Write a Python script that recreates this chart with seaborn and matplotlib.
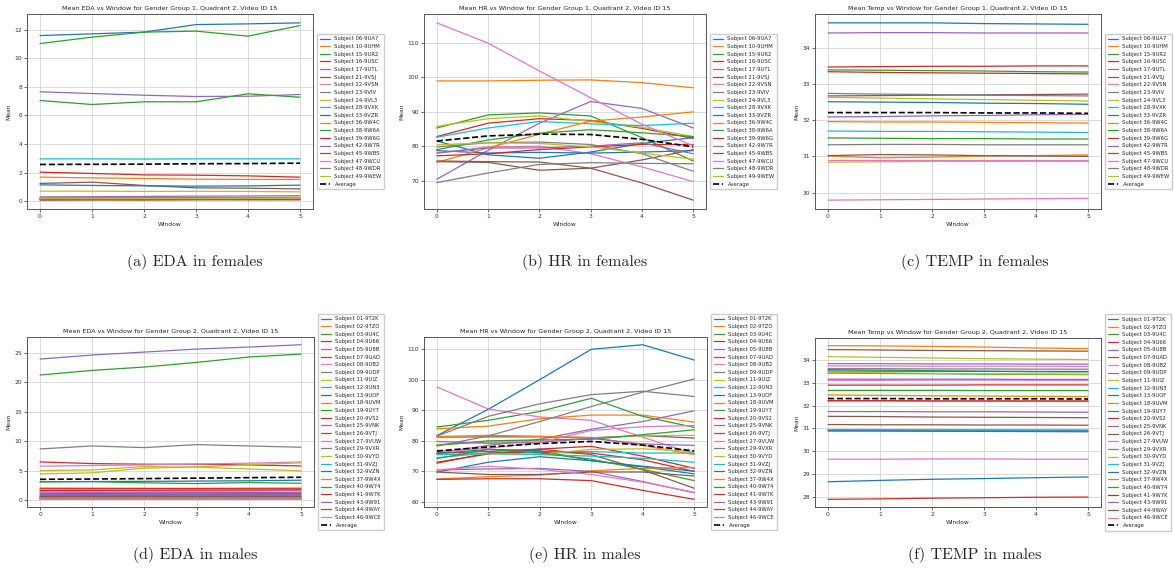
import matplotlib
matplotlib.use("Agg")
import matplotlib.pyplot as plt
from matplotlib.ticker import MultipleLocator
import pandas as pd
import seaborn as sns

sns.set_style("ticks")
plt.rcParams["font.family"] = ["DejaVu Sans"]

windows = [0, 1, 2, 3, 4, 5]

female_ids = ["06-9UA7", "10-9UHM", "15-9UR2", "16-9USC", "17-9UTL", "21-9VSJ",
              "22-9VSN", "23-9VIV", "24-9VL3", "28-9VXK", "33-9VZR", "36-9W4C",
              "38-9W6A", "39-9W6G", "42-9W7R", "45-9WBS", "47-9WCU", "48-9WDR",
              "49-9WEW"]
male_ids = ["01-9T2K", "02-9TZO", "03-9U4C", "04-9U66", "05-9U8B", "07-9UAD",
            "08-9UB2", "09-9UDP", "11-9UIZ", "12-9UN3", "13-9UOF", "18-9UVM",
            "19-9UY7", "20-9VS2", "25-9VNK", "26-9VTJ", "27-9VUW", "29-9VXR",
            "30-9VYD", "31-9VZJ", "32-9VZN", "37-9W4X", "40-9W74", "41-9W7K",
            "43-9W91", "44-9WAY", "46-9WCE"]

# ---- Gender group 1 (females): EDA ----
eda_f = [
    [11.60, 11.72, 11.84, 12.37, 12.42, 12.49],
    [1.68, 1.63, 1.59, 1.54, 1.52, 1.52],
    [11.04, 11.49, 11.84, 11.91, 11.56, 12.30],
    [2.03, 1.94, 1.84, 1.82, 1.77, 1.68],
    [7.66, 7.54, 7.42, 7.33, 7.35, 7.47],
    [1.24, 1.33, 1.10, 0.93, 0.91, 0.86],
    [0.22, 0.21, 0.20, 0.20, 0.21, 0.23],
    [0.15, 0.14, 0.14, 0.15, 0.16, 0.16],
    [0.70, 0.70, 0.68, 0.69, 0.68, 0.65],
    [2.96, 2.96, 2.95, 2.96, 2.96, 2.96],
    [1.14, 1.10, 1.07, 1.05, 1.07, 1.12],
    [0.10, 0.11, 0.10, 0.12, 0.13, 0.12],
    [7.05, 6.77, 6.96, 6.96, 7.52, 7.28],
    [0.12, 0.13, 0.14, 0.13, 0.12, 0.11],
    [0.30, 0.31, 0.33, 0.35, 0.36, 0.38],
    [0.07, 0.08, 0.08, 0.09, 0.09, 0.10],
    [0.26, 0.25, 0.24, 0.25, 0.26, 0.27],
    [0.19, 0.20, 0.21, 0.22, 0.21, 0.20],
    [0.17, 0.17, 0.18, 0.18, 0.19, 0.19],
]
eda_f_avg = [2.57, 2.58, 2.59, 2.62, 2.63, 2.66]

# ---- Gender group 1 (females): HR ----
hr_f = [
    [81.5, 77.5, 76.5, 78.3, 80.8, 82.5],
    [99.0, 99.0, 99.2, 99.3, 98.5, 97.0],
    [85.3, 89.1, 89.7, 88.8, 82.5, 75.7],
    [82.8, 86.7, 88.0, 87.5, 85.2, 82.3],
    [70.4, 78.8, 86.7, 93.0, 91.0, 85.3],
    [75.5, 75.3, 73.0, 73.6, 76.0, 79.0],
    [78.0, 79.8, 80.0, 77.8, 74.0, 69.7],
    [79.8, 81.0, 81.2, 80.5, 77.8, 72.7],
    [85.8, 88.0, 88.8, 87.2, 85.5, 82.8],
    [82.6, 85.3, 87.2, 86.5, 86.0, 86.7],
    [78.7, 78.0, 78.2, 78.0, 78.3, 78.7],
    [75.3, 79.5, 83.5, 87.3, 88.5, 90.0],
    [79.0, 81.8, 83.8, 84.8, 83.9, 82.8],
    [77.2, 77.8, 79.0, 79.8, 80.5, 80.5],
    [78.0, 79.5, 79.5, 80.0, 81.0, 77.8],
    [75.7, 75.5, 75.4, 73.6, 69.3, 64.3],
    [115.9, 110.0, 101.9, 94.1, 86.4, 80.1],
    [69.4, 72.2, 74.7, 75.2, 75.0, 74.9],
    [80.4, 81.0, 80.8, 79.8, 78.0, 76.2],
]
hr_f_avg = [81.5, 83.0, 83.5, 83.4, 82.0, 79.8]

# ---- Gender group 1 (females): TEMP ----
temp_f = [
    [34.69, 34.69, 34.69, 34.67, 34.66, 34.65],
    [31.96, 31.95, 31.95, 31.94, 31.93, 31.92],
    [33.39, 33.38, 33.37, 33.36, 33.34, 33.33],
    [33.47, 33.48, 33.49, 33.49, 33.50, 33.50],
    [34.41, 34.42, 34.42, 34.41, 34.41, 34.41],
    [32.67, 32.68, 32.69, 32.70, 32.71, 32.72],
    [30.89, 30.89, 30.89, 30.89, 30.89, 30.89],
    [32.74, 32.72, 32.71, 32.69, 32.68, 32.67],
    [32.63, 32.61, 32.59, 32.57, 32.55, 32.53],
    [31.70, 31.69, 31.69, 31.68, 31.67, 31.66],
    [32.51, 32.50, 32.49, 32.47, 32.46, 32.44],
    [31.01, 30.96, 30.98, 31.01, 31.02, 31.04],
    [31.51, 31.50, 31.49, 31.49, 31.48, 31.48],
    [33.34, 33.32, 33.31, 33.30, 33.29, 33.28],
    [32.09, 32.10, 32.12, 32.13, 32.15, 32.16],
    [31.02, 31.05, 31.04, 31.02, 31.01, 31.00],
    [29.79, 29.80, 29.81, 29.82, 29.83, 29.84],
    [31.32, 31.33, 31.33, 31.32, 31.32, 31.32],
    [30.84, 30.85, 30.86, 30.86, 30.86, 30.86],
]
temp_f_avg = [32.21, 32.21, 32.21, 32.20, 32.20, 32.19]

# ---- Gender group 2 (males): EDA ----
eda_m = [
    [0.20, 0.21, 0.20, 0.22, 0.22, 0.23],
    [1.85, 1.84, 1.85, 1.83, 1.82, 1.82],
    [21.26, 22.05, 22.62, 23.41, 24.32, 24.83],
    [6.46, 6.18, 6.07, 6.07, 5.95, 5.78],
    [23.98, 24.66, 25.17, 25.68, 26.02, 26.42],
    [1.05, 1.07, 1.05, 1.04, 1.06, 1.06],
    [5.73, 5.85, 5.95, 6.10, 6.25, 6.45],
    [8.67, 9.18, 8.90, 9.41, 9.18, 8.96],
    [4.99, 5.10, 5.67, 5.56, 5.27, 4.93],
    [0.40, 0.42, 0.41, 0.43, 0.42, 0.44],
    [3.10, 3.12, 3.15, 3.20, 3.25, 3.35],
    [0.25, 0.26, 0.27, 0.26, 0.27, 0.28],
    [0.50, 0.51, 0.53, 0.52, 0.54, 0.53],
    [1.98, 1.97, 1.96, 1.95, 1.97, 1.98],
    [1.20, 1.22, 1.21, 1.23, 1.23, 1.25],
    [0.10, 0.11, 0.10, 0.11, 0.12, 0.12],
    [1.40, 1.42, 1.45, 1.44, 1.47, 1.50],
    [0.75, 0.77, 0.76, 0.78, 0.77, 0.79],
    [4.42, 4.60, 5.40, 5.60, 6.00, 6.30],
    [0.15, 0.16, 0.15, 0.16, 0.17, 0.17],
    [0.35, 0.36, 0.35, 0.37, 0.37, 0.38],
    [0.30, 0.31, 0.32, 0.31, 0.33, 0.33],
    [3.06, 3.10, 2.90, 2.78, 2.95, 2.83],
    [1.60, 1.62, 1.64, 1.65, 1.66, 1.69],
    [0.90, 0.91, 0.93, 0.92, 0.94, 0.94],
    [0.60, 0.62, 0.61, 0.62, 0.63, 0.63],
    [0.12, 0.13, 0.12, 0.13, 0.14, 0.14],
]
eda_m_avg = [3.50, 3.55, 3.62, 3.70, 3.78, 3.85]

# ---- Gender group 2 (males): HR ----
hr_m = [
    [81.7, 90.3, 100.0, 109.9, 111.4, 106.4],
    [83.9, 84.8, 87.2, 88.4, 88.4, 86.1],
    [84.5, 86.7, 89.6, 93.9, 88.0, 84.4],
    [73.0, 75.7, 77.3, 78.2, 75.0, 71.0],
    [76.0, 78.5, 80.5, 83.8, 86.3, 89.8],
    [81.2, 81.3, 81.3, 81.0, 81.7, 80.9],
    [97.6, 90.4, 87.8, 86.7, 81.2, 75.7],
    [81.5, 88.0, 92.1, 95.1, 96.2, 94.5],
    [78.8, 79.5, 80.0, 80.8, 81.7, 81.8],
    [74.5, 76.0, 76.5, 76.5, 76.0, 76.0],
    [75.8, 77.2, 76.8, 73.5, 71.5, 69.2],
    [81.4, 81.8, 81.5, 81.1, 78.5, 75.5],
    [78.5, 80.0, 80.3, 80.5, 82.0, 83.6],
    [72.7, 76.0, 76.3, 76.0, 73.8, 70.0],
    [79.8, 79.2, 79.5, 80.8, 79.0, 78.5],
    [76.0, 76.5, 77.3, 75.5, 70.5, 64.5],
    [76.5, 77.5, 79.5, 83.4, 84.6, 85.0],
    [78.3, 81.6, 86.3, 91.2, 95.9, 100.2],
    [75.5, 75.8, 75.6, 77.2, 77.4, 76.5],
    [75.5, 75.8, 75.5, 75.0, 74.3, 73.0],
    [69.8, 73.0, 74.8, 73.5, 71.7, 70.1],
    [67.5, 68.3, 68.8, 70.2, 71.0, 71.3],
    [74.2, 77.2, 76.0, 74.0, 70.7, 67.0],
    [67.4, 67.6, 67.6, 67.0, 63.8, 60.9],
    [70.5, 70.8, 71.0, 70.0, 66.7, 63.0],
    [69.8, 69.0, 69.0, 69.8, 69.8, 68.5],
    [70.5, 71.7, 70.7, 69.0, 66.5, 63.2],
]
hr_m_avg = [76.7, 78.0, 79.1, 79.8, 78.6, 76.7]

# ---- Gender group 2 (males): TEMP ----
temp_m = [
    [28.66, 28.72, 28.77, 28.80, 28.84, 28.87],
    [34.63, 34.62, 34.60, 34.57, 34.53, 34.50],
    [33.58, 33.56, 33.53, 33.51, 33.49, 33.48],
    [27.89, 27.91, 27.94, 27.96, 27.98, 27.99],
    [33.84, 33.84, 33.83, 33.83, 33.82, 33.82],
    [34.46, 34.44, 34.42, 34.41, 34.40, 34.39],
    [33.74, 33.74, 33.73, 33.73, 33.73, 33.72],
    [33.62, 33.62, 33.61, 33.61, 33.60, 33.60],
    [34.15, 34.12, 34.09, 34.06, 34.04, 34.02],
    [30.95, 30.95, 30.94, 30.94, 30.93, 30.93],
    [33.52, 33.51, 33.51, 33.50, 33.50, 33.50],
    [32.47, 32.45, 32.43, 32.42, 32.41, 32.40],
    [33.43, 33.41, 33.40, 33.38, 33.37, 33.36],
    [32.90, 32.90, 32.90, 32.91, 32.91, 32.91],
    [31.74, 31.74, 31.73, 31.73, 31.72, 31.71],
    [31.53, 31.52, 31.50, 31.49, 31.48, 31.47],
    [33.11, 33.11, 33.12, 33.12, 33.11, 33.11],
    [30.90, 30.89, 30.88, 30.87, 30.86, 30.85],
    [33.46, 33.44, 33.42, 33.40, 33.39, 33.38],
    [30.93, 30.93, 30.93, 30.92, 30.92, 30.92],
    [30.89, 30.89, 30.88, 30.88, 30.88, 30.88],
    [32.20, 32.20, 32.19, 32.19, 32.18, 32.18],
    [32.67, 32.67, 32.67, 32.66, 32.66, 32.66],
    [32.22, 32.22, 32.21, 32.21, 32.21, 32.21],
    [33.16, 33.16, 33.16, 33.16, 33.15, 33.15],
    [31.17, 31.16, 31.16, 31.15, 31.15, 31.14],
    [29.65, 29.65, 29.66, 29.66, 29.65, 29.65],
]
temp_m_avg = [32.31, 32.31, 32.30, 32.30, 32.30, 32.29]

captions = ["(a) EDA in females", "(b) HR in females", "(c) TEMP in females",
            "(d) EDA in males", "(e) HR in males", "(f) TEMP in males"]

W, H = 1174, 586
fig = plt.figure(figsize=(W / 100, H / 100), dpi=100)
tab10 = sns.color_palette("tab10", 10)


def axes_px(left, top, right, bottom):
    return fig.add_axes([left / W, 1 - bottom / H, (right - left) / W, (bottom - top) / H])


panels = [
    # (box px, metric, group, ids, series, average, y step, caption centre)
    ((27, 14, 313, 209), "EDA", 1, female_ids, eda_f, eda_f_avg, 2, (195, 262)),
    ((424, 14, 706, 209), "HR", 1, female_ids, hr_f, hr_f_avg, 10, (585, 262)),
    ((815, 14, 1101, 209), "Temp", 1, female_ids, temp_f, temp_f_avg, 1, (975, 262)),
    ((27, 337, 314, 507), "EDA", 2, male_ids, eda_m, eda_m_avg, 5, (195, 555)),
    ((424, 337, 707, 507), "HR", 2, male_ids, hr_m, hr_m_avg, 10, (585, 555)),
    ((815, 338, 1101, 507), "Temp", 2, male_ids, temp_m, temp_m_avg, 1, (975, 555)),
]

for (box, metric, group, ids, series, avg, step, cap_xy), caption in zip(panels, captions):
    ax = axes_px(*box)
    labels = [f"Subject {s}" for s in ids]
    df = pd.DataFrame({
        "Window": windows * len(ids),
        "Mean": [v for row in series for v in row],
        "Subject": [lab for lab in labels for _ in windows],
    })
    palette = [tab10[i % 10] for i in range(len(ids))]
    sns.lineplot(data=df, x="Window", y="Mean", hue="Subject", hue_order=labels,
                 palette=palette, linewidth=0.9, ax=ax)
    sns.lineplot(x=windows, y=avg, color="black", linestyle="--", linewidth=1.2,
                 label="Average", ax=ax)

    ax.set_title(f"Mean {metric} vs Window for Gender Group {group}, Quadrant 2, Video ID 15",
                 fontsize=4.6, pad=3, color="#222222")
    ax.set_xlabel("Window", fontsize=4.3, labelpad=2)
    ax.set_ylabel("Mean", fontsize=4.3, labelpad=2)
    ax.yaxis.set_major_locator(MultipleLocator(step))
    ax.set_xticks(windows)
    ax.tick_params(labelsize=4.3, length=2, width=0.5, pad=1.5, colors="#333333")
    ax.grid(True, color="#d4d4d4", linewidth=0.6)
    for sp in ax.spines.values():
        sp.set_visible(True)
        sp.set_linewidth(0.7)
        sp.set_color("#555555")

    ax.legend(loc="center left", bbox_to_anchor=(1.005, 0.5), fontsize=3.8,
              frameon=True, fancybox=True, framealpha=1, edgecolor="#cccccc",
              handlelength=2.0, borderpad=0.5, labelspacing=0.5)

    fig.text(cap_xy[0] / W, 1 - cap_xy[1] / H, caption, ha="center", va="center",
             family="cmr10", fontsize=11.5)

fig.savefig("out.png", dpi=100)
